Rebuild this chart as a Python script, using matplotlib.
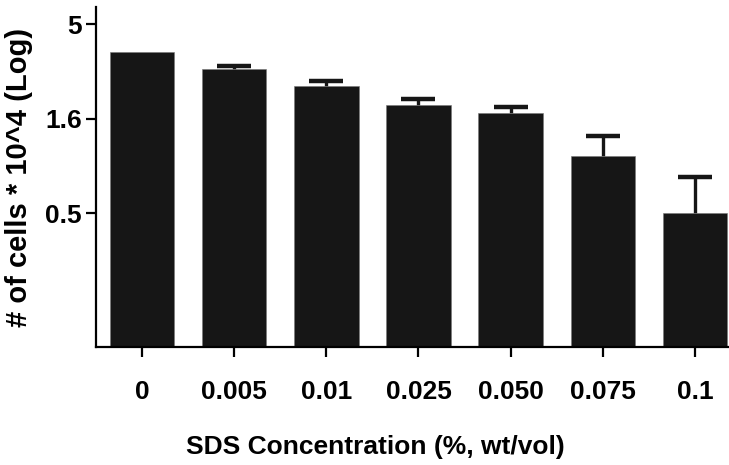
import numpy as np
import matplotlib
matplotlib.use("Agg")
import matplotlib.pyplot as plt
from matplotlib.ticker import FixedLocator, FixedFormatter, NullLocator

# data
conc = ["0", "0.005", "0.01", "0.025", "0.050", "0.075", "0.1"]
cells = [3.54, 2.88, 2.36, 1.86, 1.69, 1.00, 0.50]
err_up = [0.0, 0.13, 0.14, 0.14, 0.13, 0.28, 0.28]
yticks = [0.5, 1.58, 5]
ylabels = ["0.5", "1.6", "5"]

plt.rcParams['font.family'] = ['Liberation Sans', 'DejaVu Sans']
plt.rcParams['font.weight'] = 'bold'

fig = plt.figure(figsize=(7.29, 4.65), dpi=100)
ax = fig.add_axes([96/729, 1-347/465, 1-96/729, 340/465])

x = np.arange(len(conc))
cells = np.array(cells)
err_up = np.array(err_up)
dark = '#161616'
ax.bar(x, cells, width=0.70, color=dark, edgecolor='#777777', linewidth=0.4, zorder=2)

# only upper error bars, only where there is an error
m = err_up > 0
err = ax.errorbar(x[m], cells[m], yerr=[np.zeros(m.sum()), err_up[m]], fmt='none',
                  ecolor=dark, elinewidth=2.4, capsize=12.5, capthick=3.2, zorder=1)
caps = err[1]
caps[0].remove()  # lower caps
for c in caps[1:]:
    c.set_solid_capstyle('round')

ax.set_yscale('log')
ax.set_ylim(0.098, 6.15)
ax.set_xlim(-0.5, 6.37)
ax.yaxis.set_major_locator(FixedLocator(yticks))
ax.yaxis.set_major_formatter(FixedFormatter(ylabels))
ax.yaxis.set_minor_locator(NullLocator())
ax.set_xticks(x)
ax.set_xticklabels(conc)

for s in ['top', 'right']:
    ax.spines[s].set_visible(False)
for s in ['left', 'bottom']:
    ax.spines[s].set_linewidth(1.6)

ax.tick_params(axis='y', length=7, width=1.6, pad=3, labelsize=19)
ax.tick_params(axis='x', length=7, width=1.6, pad=17, labelsize=19)

ax.set_xlabel('SDS Concentration (%, wt/vol)', fontsize=19, fontweight='bold', labelpad=22)
ax.xaxis.label.set_x(0.442)
ax.set_ylabel('# of cells * 10^4 (Log)', fontsize=21, fontweight='bold', labelpad=9)

fig.savefig('out.png', dpi=100)
